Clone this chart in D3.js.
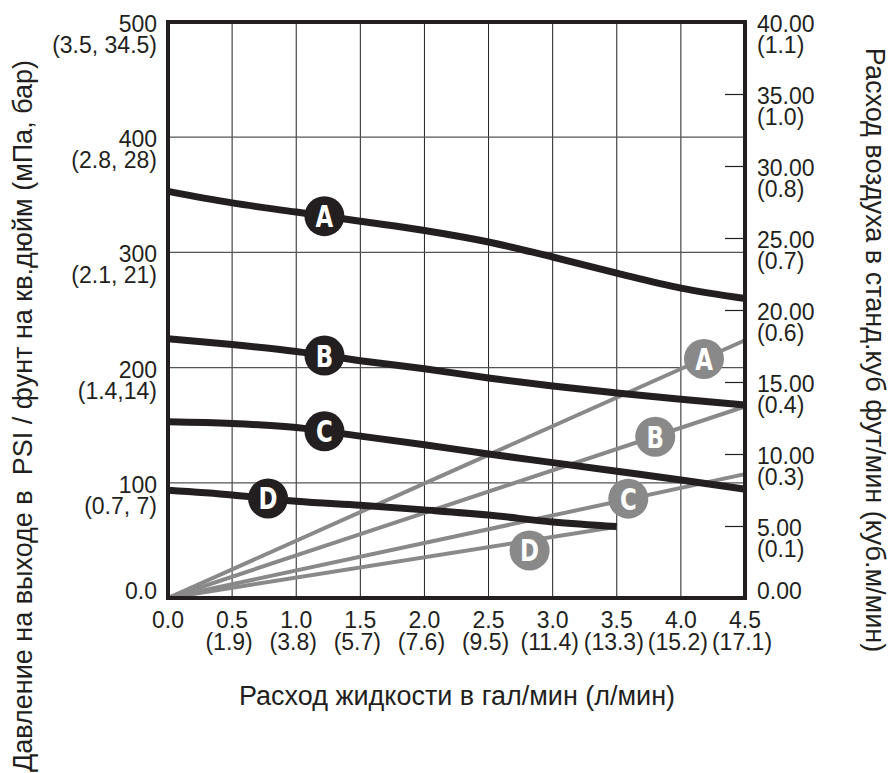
<!DOCTYPE html>
<html>
<head>
<meta charset="utf-8">
<script src="https://cdn.jsdelivr.net/npm/d3@7"></script>
<style>
  body { margin: 0; background: #fff; }
  text { font-family: "Liberation Sans", Arial, Helvetica, sans-serif; fill: #231f20; }
  .mark text { font-family: "DejaVu Sans Condensed", "DejaVu Sans", sans-serif; font-weight: bold; fill: #fff; }
</style>
</head>
<body>
<div id="chart"></div>
<script>
// flow, gal/min
const flow = [0, 0.5, 1.0, 1.5, 2.0, 2.5, 3.0, 3.5, 4.0, 4.5];
const flowD = [0, 0.5, 1.0, 1.5, 2.0, 2.5, 3.0, 3.5];

// outlet pressure, psi
const psiA = [353, 343, 335, 327, 319, 309, 296, 282, 269, 260];
const psiB = [225, 220, 214, 206, 199, 191, 184, 178, 172.5, 167.5];
const psiC = [153, 151.5, 148, 140.5, 133, 125, 117.5, 110, 102.5, 94.5];
const psiD = [93.5, 89.5, 84, 80.5, 76.5, 72, 66, 62];

// air consumption, scfm (straight lines from zero)
const airNames = ["A", "B", "C", "D"];
const airFlow = [[0, 4.5], [0, 4.5], [0, 4.5], [0, 3.5]];
const airCfm = [[0, 17.9], [0, 13.3], [0, 8.6], [0, 4.95]];

// where the letters sit
const psiLabelX = [1.22, 1.22, 1.22, 0.78];
const airLabelX = [4.18, 3.8, 3.59, 2.82];
const airLabelCfm = [16.6, 11.2, 6.9, 3.3];

// ticks
const psiTicks = [0, 100, 200, 300, 400, 500];
const psiTickSub = ["", "(0.7, 7)", "(1.4,14)", "(2.1, 21)", "(2.8, 28)", "(3.5, 34.5)"];
const cfmTicks = [0, 5, 10, 15, 20, 25, 30, 35, 40];
const cfmTickSub = ["", "(0.1)", "(0.3)", "(0.4)", "(0.6)", "(0.7)", "(0.8)", "(1.0)", "(1.1)"];
const flowTicks = [0, 0.5, 1.0, 1.5, 2.0, 2.5, 3.0, 3.5, 4.0, 4.5];
const flowTickSub = ["", "(1.9)", "(3.8)", "(5.7)", "(7.6)", "(9.5)", "(11.4)", "(13.3)", "(15.2)", "(17.1)"];

const titleLeft = "Давление на выходе в  PSI / фунт на кв.дюйм (мПа, бар)";
const titleRight = "Расход воздуха в станд.куб фут/мин (куб.м/мин)";
const titleBottom = "Расход жидкости в гал/мин (л/мин)";

const width = 890;
const height = 773;
const plotL = 168, plotR = 745, plotT = 22, plotB = 598;
const ink = "#231f20";
const grey = "#898989";

const svg = d3.select("#chart")
              .append("svg")
              .attr("width", width)
              .attr("height", height);

const x = d3.scaleLinear().domain([0, 4.5]).range([plotL, plotR]);
const yPsi = d3.scaleLinear().domain([0, 500]).range([plotB, plotT]);
const yCfm = d3.scaleLinear().domain([0, 40]).range([plotB, plotT]);

// grid
svg.append("g")
   .selectAll("line")
   .data(flowTicks.slice(1, -1))
   .enter()
   .append("line")
   .attr("x1", d => x(d)).attr("x2", d => x(d))
   .attr("y1", plotT).attr("y2", plotB)
   .attr("stroke", ink)
   .attr("stroke-width", 1);

svg.append("g")
   .selectAll("line")
   .data(psiTicks.slice(1, -1))
   .enter()
   .append("line")
   .attr("x1", plotL).attr("x2", plotR)
   .attr("y1", d => yPsi(d)).attr("y2", d => yPsi(d))
   .attr("stroke", "#555")
   .attr("stroke-width", 1.2);

// inward ticks on right axis
const rightAxis = d3.axisLeft(yCfm)
                    .tickValues(cfmTicks.slice(1, -1))
                    .tickSize(20)
                    .tickFormat("");
svg.append("g")
   .attr("transform", "translate(" + plotR + ",0)")
   .call(rightAxis)
   .call(g => g.select(".domain").remove())
   .call(g => g.selectAll("line").attr("stroke", ink).attr("stroke-width", 1.2));

// air lines
const airLine = d3.line();
airNames.forEach(function(name, i) {
  svg.append("path")
     .attr("d", airLine(airFlow[i].map((f, j) => [x(f), yCfm(airCfm[i][j])])))
     .attr("fill", "none")
     .attr("stroke", grey)
     .attr("stroke-width", 4);
});

// pressure curves
const psiLine = d3.line()
                  .x(d => x(d[0]))
                  .y(d => yPsi(d[1]))
                  .curve(d3.curveMonotoneX);
const psiSeries = [
  {name: "A", flow: flow, psi: psiA},
  {name: "B", flow: flow, psi: psiB},
  {name: "C", flow: flow, psi: psiC},
  {name: "D", flow: flowD, psi: psiD}
];
psiSeries.forEach(function(s) {
  svg.append("path")
     .attr("d", psiLine(s.flow.map((f, j) => [f, s.psi[j]])))
     .attr("fill", "none")
     .attr("stroke", ink)
     .attr("stroke-width", 7);
});

// frame
svg.append("rect")
   .attr("x", plotL).attr("y", plotT)
   .attr("width", plotR - plotL).attr("height", plotB - plotT)
   .attr("fill", "none")
   .attr("stroke", ink)
   .attr("stroke-width", 4);

// letter markers
function marker(cx, cy, fill, letter) {
  const g = svg.append("g").attr("class", "mark");
  g.append("circle")
   .attr("cx", cx).attr("cy", cy).attr("r", 20)
   .attr("fill", fill);
  g.append("text")
   .attr("transform", "translate(" + cx + "," + (cy + 11) + ") scale(0.82,1)")
   .attr("text-anchor", "middle")
   .style("font-size", "31px")
   .text(letter);
}
psiSeries.forEach(function(s, i) {
  const interp = d3.scaleLinear().domain(s.flow).range(s.psi);
  marker(x(psiLabelX[i]), yPsi(interp(psiLabelX[i])), ink, s.name);
});
airNames.forEach(function(name, i) {
  marker(x(airLabelX[i]), yCfm(airLabelCfm[i]), grey, name);
});

// tick labels
const fs = "23px";
const leftLab = svg.append("g").attr("text-anchor", "end").style("font-size", fs);
psiTicks.forEach(function(t, i) {
  const y0 = t === 0 ? yPsi(t) + 1 : yPsi(t) + 10;
  leftLab.append("text").attr("x", plotL - 11).attr("y", y0).text(t === 0 ? "0.0" : t);
  if (psiTickSub[i]) leftLab.append("text").attr("x", plotL - 11).attr("y", y0 + 21).text(psiTickSub[i]);
});

const rightLab = svg.append("g").attr("text-anchor", "start").style("font-size", fs);
cfmTicks.forEach(function(t, i) {
  const y0 = t === 0 ? yCfm(t) + 1 : yCfm(t) + 10;
  rightLab.append("text").attr("x", plotR + 12).attr("y", y0).text(d3.format(".2f")(t));
  if (cfmTickSub[i]) rightLab.append("text").attr("x", plotR + 12).attr("y", y0 + 21).text(cfmTickSub[i]);
});

const bottomLab = svg.append("g").attr("text-anchor", "middle").style("font-size", fs);
flowTicks.forEach(function(t, i) {
  bottomLab.append("text").attr("x", x(t)).attr("y", plotB + 30).text(d3.format(".1f")(t));
  if (flowTickSub[i]) bottomLab.append("text").attr("x", x(t) - 3).attr("y", plotB + 52).text(flowTickSub[i]);
});

// axis titles
svg.append("text")
   .attr("transform", "translate(32,416) rotate(-90)")
   .attr("text-anchor", "middle")
   .style("font-size", "27px")
   .style("white-space", "pre")
   .text(titleLeft);

svg.append("text")
   .attr("transform", "translate(866,350) rotate(90)")
   .attr("text-anchor", "middle")
   .style("font-size", "27px")
   .text(titleRight);

svg.append("text")
   .attr("x", 457).attr("y", 705)
   .attr("text-anchor", "middle")
   .style("font-size", "27px")
   .text(titleBottom);
</script>
</body>
</html>
